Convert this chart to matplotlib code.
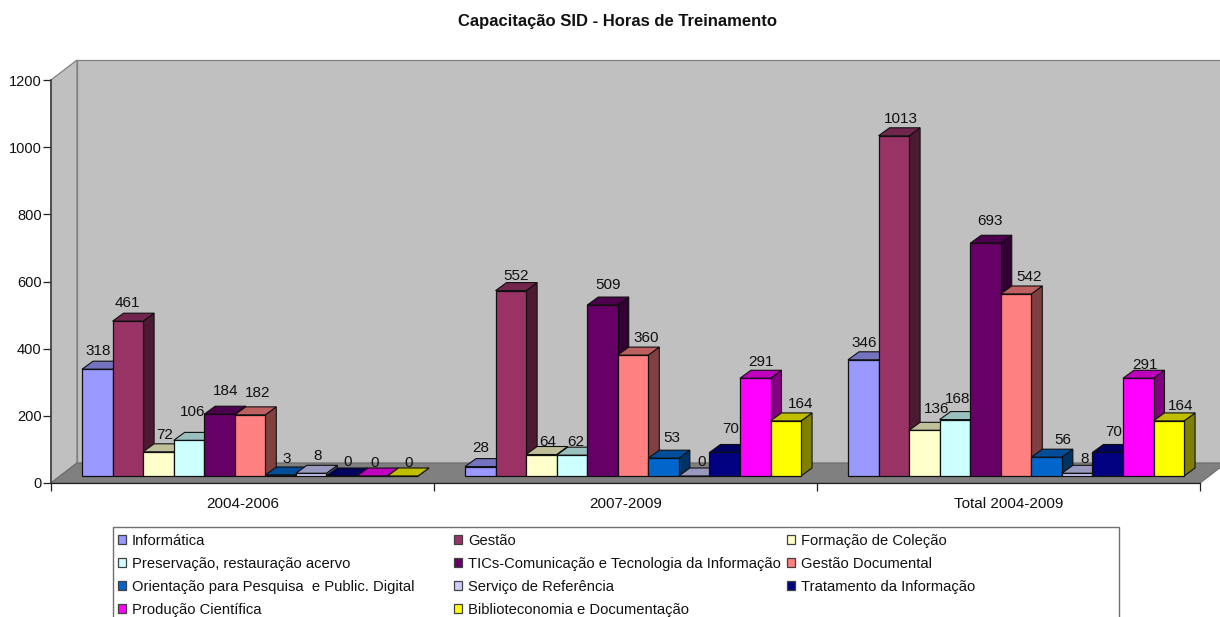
import matplotlib
matplotlib.use("Agg")
import matplotlib.pyplot as plt
from matplotlib.patches import Polygon, Rectangle, Patch

plt.rcParams['font.family'] = ['Liberation Sans', 'DejaVu Sans']

# ---- data ----
categories = ['2004-2006', '2007-2009', 'Total 2004-2009']
informatica = [318, 28, 346]
gestao = [461, 552, 1013]
formacao = [72, 64, 136]
preservacao = [106, 62, 168]
tics = [184, 509, 693]
gestao_doc = [182, 360, 542]
orientacao = [3, 53, 56]
servico = [8, 0, 8]
tratamento = [0, 70, 70]
producao = [0, 291, 291]
biblioteconomia = [0, 164, 164]
y_ticks = [0, 200, 400, 600, 800, 1000, 1200]

series_names = ['Informática', 'Gestão', 'Formação de Coleção',
                'Preservação, restauração acervo',
                'TICs-Comunicação e Tecnologia da Informação',
                'Gestão Documental',
                'Orientação para Pesquisa  e Public. Digital',
                'Serviço de Referência', 'Tratamento da Informação',
                'Produção Científica', 'Biblioteconomia e Documentação']
series_values = [informatica, gestao, formacao, preservacao, tics, gestao_doc,
                 orientacao, servico, tratamento, producao, biblioteconomia]
series_colors = ['#9999FF', '#993366', '#FFFFCC', '#CCFFFF', '#660066', '#FF8080',
                 '#0066CC', '#CCCCFF', '#000080', '#FF00FF', '#FFFF00']

# label placement, pixels relative to the top-centre of each bar's front face
label_dx = [[0, -1, 5, 3, 5, 7, 5, 5, 5, 1, 5],
            [-1, 4, 5, 3, 5, 12, 7, 7, 5, 5, 14],
            [0, 6.5, 11, 1.5, 4, 12.5, 15, 6.5, 5, 5.5, 11]]
label_dy = [[18, 18, 17, 28, 23, 22, 16, 17, 14, 13, 13],
            [18.6, 15, 12.5, 13, 20, 17, 20, 14, 23, 16, 17],
            [17, 17, 21, 21, 22, 17, 17, 14, 20, 13, 15]]

# ---- layout (pixels in a 1220x617 figure) ----
W, H = 1220, 617
AX_L, AX_R, AX_T, AX_B = 51, 1200, 80, 483
fig = plt.figure(figsize=(W / 100, H / 100), dpi=100, facecolor='white')
ax = fig.add_axes([AX_L / W, 1 - AX_B / H, (AX_R - AX_L) / W, (AX_B - AX_T) / H])
ax.set_xlim(0, 3)
ax.set_ylim(0, 1200)
ax.patch.set_visible(False)
px_x = 3 / (AX_R - AX_L)
px_y = 1200 / (AX_B - AX_T)

def dark(hexcol, f):
    r, g, b = matplotlib.colors.to_rgb(hexcol)
    return (r * f, g * f, b * f)

# walls and floor
wall_dx, wall_dy = 26 * px_x, 20 * px_y
wall_edge = '#808080'
ax.add_patch(Polygon([(0, 0), (0, 1200), (wall_dx, 1200 + wall_dy), (wall_dx, wall_dy)],
                     closed=True, fc='#C0C0C0', ec=wall_edge, lw=0.9, clip_on=False, zorder=1))
ax.add_patch(Polygon([(wall_dx, wall_dy), (wall_dx, 1200 + wall_dy),
                      (3 + wall_dx, 1200 + wall_dy), (3 + wall_dx, wall_dy)],
                     closed=True, fc='#C0C0C0', ec=wall_edge, lw=0.9, clip_on=False, zorder=1))
ax.add_patch(Polygon([(0, 0), (3, 0), (3 + wall_dx, wall_dy), (wall_dx, wall_dy)],
                     closed=True, fc='#808080', ec='#6E6E6E', lw=0.9, clip_on=False, zorder=1.5))

# bars
bar_w = 30.55 * px_x
bar_x0 = 31 * px_x
base = 7 * px_y
dep_x, dep_y = 11 * px_x, 8 * px_y
z = 3
for k, (name, vals, col) in enumerate(zip(series_names, series_values, series_colors)):
    xs = [i + bar_x0 + k * bar_w for i in range(len(categories))]
    for x, v in zip(xs, vals):
        top = base + v
        ax.add_patch(Polygon([(x + bar_w, base), (x + bar_w, top),
                              (x + bar_w + dep_x, top + dep_y), (x + bar_w + dep_x, base + dep_y)],
                             closed=True, fc=dark(col, .5), ec='#101010', lw=0.8,
                             clip_on=False, zorder=z + k * 0.1))
        ax.add_patch(Polygon([(x, top), (x + bar_w, top),
                              (x + bar_w + dep_x, top + dep_y), (x + dep_x, top + dep_y)],
                             closed=True, fc=dark(col, .75), ec='#101010', lw=0.8,
                             clip_on=False, zorder=z + k * 0.1))
    ax.bar(xs, vals, width=bar_w, bottom=base, align='edge', color=col,
           edgecolor='#101010', linewidth=0.9, zorder=z + k * 0.1 + 0.05, clip_on=False)

# data labels
for k, vals in enumerate(series_values):
    for i, v in enumerate(vals):
        ax.annotate(str(v), (i + bar_x0 + (k + .5) * bar_w, base + v),
                    xytext=(label_dx[i][k] + 1, label_dy[i][k]), textcoords='offset pixels',
                    ha='center', va='center', fontsize=11, color='#111111', zorder=10,
                    annotation_clip=False)

# axes decoration
for s in ('top', 'right'):
    ax.spines[s].set_visible(False)
ax.spines['left'].set_color('#404040')
ax.spines['left'].set_linewidth(1.2)
ax.spines['bottom'].set_color('#202020')
ax.spines['bottom'].set_linewidth(0.9)
ax.set_yticks(y_ticks)
ax.tick_params(axis='y', length=5.5, width=0.9, color='#202020', labelsize=10.5, pad=1.2,
               labelcolor='#111111')
ax.set_xticks([0, 1, 2, 3])
ax.set_xticklabels([])
ax.set_xticks([0.5, 1.5, 2.5], labels=categories, minor=True)
ax.tick_params(axis='x', which='major', length=5.5, width=0.9, color='#202020')
ax.tick_params(axis='x', which='minor', length=0, labelsize=11, pad=10, labelcolor='#111111')

fig.text(617 / W, 1 - 21.5 / H, 'Capacitação SID - Horas de Treinamento', ha='center', va='center',
         fontsize=12, fontweight='bold', color='#111111')

# legend: frame runs past the lower edge of the picture
fig.add_artist(Rectangle((113 / W, 1 - 640 / H), (1119 - 113) / W, (640 - 527) / H,
                         transform=fig.transFigure, fc='white', ec='#707070', lw=1.0, zorder=0))
col_left = [118, 454, 787]
for c, x0 in enumerate(col_left):
    idx = list(range(c, len(series_names), 3))
    handles = [Patch(fc=series_colors[j], ec='#404040', lw=0.9) for j in idx]
    fig.legend(handles, [series_names[j] for j in idx], loc='upper left',
               bbox_to_anchor=(x0 / W, 1 - 534 / H), bbox_transform=fig.transFigure,
               frameon=False, fontsize=10.65, handlelength=0.55, handleheight=0.55,
               handletextpad=0.4, labelspacing=0.6, borderpad=0, borderaxespad=0,
               labelcolor='#111111')

fig.savefig('out.png', dpi=100)
